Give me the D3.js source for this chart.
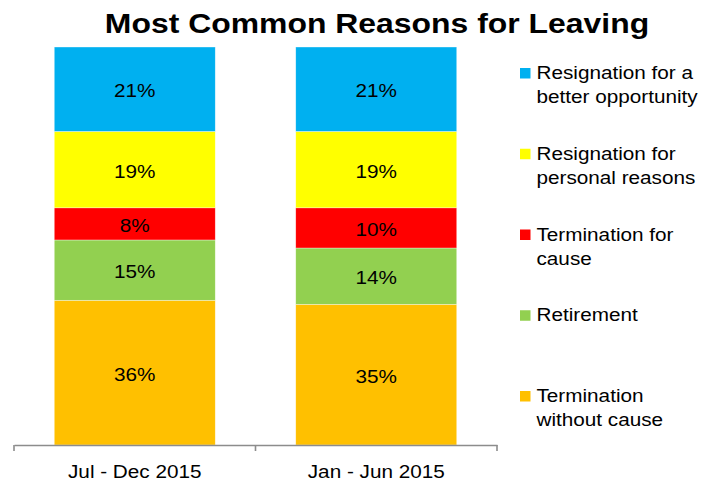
<!DOCTYPE html>
<html>
<head>
<meta charset="utf-8">
<script src="https://cdn.jsdelivr.net/npm/d3@7"></script>
<style>
  html, body { margin: 0; padding: 0; background: #fff; }
  svg { display: block; }
  text { font-family: "Liberation Sans", Arial, sans-serif; fill: #000; }
</style>
</head>
<body>
<svg id="chart" width="711" height="483"></svg>
<script>
// Periods (x categories)
const periods = ["Jul - Dec 2015", "Jan - Jun 2015"];

// Reasons, bottom of the stack first
const reasons = [
  "Termination without cause",
  "Retirement",
  "Termination for cause",
  "Resignation for personal reasons",
  "Resignation for a better opportunity"
];

// Legend wording split across lines
const legendLines = [
  ["Termination", "without cause"],
  ["Retirement"],
  ["Termination for", "cause"],
  ["Resignation for", "personal reasons"],
  ["Resignation for a", "better opportunity"]
];

const colors = ["#FFC000", "#92D050", "#FF0000", "#FFFF00", "#00B0F0"];

// Percent shares per period, same order as reasons
const julDec2015 = [36, 15, 8, 19, 21];
const janJun2015 = [35, 14, 10, 19, 21];

const rows = periods.map((p, i) => {
  const vals = i === 0 ? julDec2015 : janJun2015;
  const row = { period: p };
  reasons.forEach((r, j) => row[r] = vals[j]);
  return row;
});

const svg = d3.select("#chart");
const STRETCH = 1.12;

// Place text with a slight horizontal widening
function placeText(sel, x, y) {
  return sel.attr("x", 0).attr("y", 0)
    .attr("transform", `translate(${x},${y}) scale(${STRETCH},1)`);
}

const x = d3.scaleBand()
  .domain(periods)
  .range([14, 497])
  .paddingInner(1 / 3)
  .paddingOuter(1 / 6);

const y = d3.scaleLinear().domain([0, 1]).range([445, 47]);

const color = d3.scaleOrdinal().domain(reasons).range(colors);

const stack = d3.stack().keys(reasons).offset(d3.stackOffsetExpand);
const series = stack(rows);

// Title
placeText(svg.append("text"), 377, 33)
  .attr("text-anchor", "middle")
  .style("font-size", "28.5px")
  .style("font-weight", "bold")
  .text("Most Common Reasons for Leaving");

// Stacked segments
const layers = svg.append("g").selectAll("g")
  .data(series)
  .join("g")
  .attr("fill", d => color(d.key));

layers.selectAll("rect")
  .data(d => d.map(v => Object.assign(v, { key: d.key })))
  .join("rect")
  .attr("x", d => x(d.data.period))
  .attr("width", x.bandwidth())
  .attr("y", d => y(d[1]))
  .attr("height", d => y(d[0]) - y(d[1]))
  .attr("stroke", "#ffffff")
  .attr("stroke-width", 0.6)
  .attr("stroke-opacity", 0.6);

// Segment value labels
layers.selectAll("text")
  .data(d => d)
  .join("text")
  .each(function (d) {
    const cx = x(d.data.period) + x.bandwidth() / 2;
    const cy = (y(d[0]) + y(d[1])) / 2 + 8;
    placeText(d3.select(this), cx, cy);
  })
  .attr("text-anchor", "middle")
  .style("font-size", "18.5px")
  .text(d => d.data[d.key] + "%");

// Category axis
const axis = svg.append("g")
  .attr("transform", "translate(0,445)")
  .call(d3.axisBottom(x).tickSize(0).tickFormat(""));
axis.select(".domain").attr("stroke", "#8c8c8c").attr("stroke-width", 1.6);

// Tick marks on band boundaries
const boundaries = [x.range()[0]].concat(periods.map(p => x(p) - x.step() * x.paddingInner() / 2 + x.step()));
axis.selectAll(".bound")
  .data(boundaries)
  .join("line")
  .attr("class", "bound")
  .attr("x1", d => d).attr("x2", d => d)
  .attr("y1", 0).attr("y2", 6)
  .attr("stroke", "#8c8c8c")
  .attr("stroke-width", 1.6);

svg.append("g").selectAll("text")
  .data(periods)
  .join("text")
  .each(function (p) {
    placeText(d3.select(this), x(p) + x.bandwidth() / 2, 478);
  })
  .attr("text-anchor", "middle")
  .style("font-size", "18.5px")
  .text(d => d);

// Legend, top entry is the top of the stack
const legendOrder = d3.range(reasons.length).reverse();
const legend = svg.append("g").selectAll("g")
  .data(legendOrder)
  .join("g")
  .attr("transform", (d, i) => `translate(520,${79 + i * 80.75})`);

legend.append("rect")
  .attr("x", 0).attr("y", -11)
  .attr("width", 10.5).attr("height", 10.5)
  .attr("fill", d => colors[d]);

legend.each(function (d) {
  const g = d3.select(this);
  legendLines[d].forEach((line, k) => {
    placeText(g.append("text"), 16.5, k * 24)
      .style("font-size", "18.5px")
      .text(line);
  });
});
</script>
</body>
</html>
